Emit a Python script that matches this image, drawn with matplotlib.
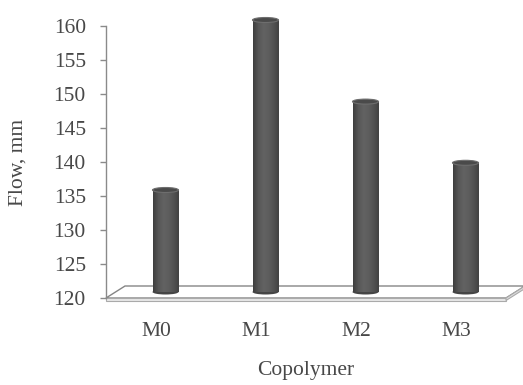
import matplotlib
matplotlib.use("Agg")
import matplotlib.pyplot as plt
import numpy as np
from matplotlib.patches import Polygon, Ellipse
from matplotlib.colors import LinearSegmentedColormap
from matplotlib import transforms

categories = ["M0", "M1", "M2", "M3"]
values = [135, 160, 148, 139]
yticks = [120, 125, 130, 135, 140, 145, 150, 155, 160]
ylabel = "Flow, mm"
xlabel = "Copolymer"

FONT = ["Liberation Serif", "DejaVu Serif"]
TXT = "#484848"
FS = 15.5

W, H = 523, 385
fig = plt.figure(figsize=(W / 100, H / 100), dpi=100)
ax_l, ax_r, ax_t, ax_b = 106, 506, 26, 298
ax = fig.add_axes([ax_l / W, (H - ax_b) / H, (ax_r - ax_l) / W, (ax_b - ax_t) / H])
ymin, ymax = yticks[0], yticks[-1]
n = len(categories)
ax.set_xlim(0, n)
ax.set_ylim(ymin, ymax)

# depth offsets (inches)
depth_dx, depth_dy = 0.19, 0.12
bar_trans = ax.transData + transforms.ScaledTranslation(depth_dx / 2, depth_dy / 2, fig.dpi_scale_trans)

# data units per inch
ax_w_in = (ax_r - ax_l) / 100
ax_h_in = (ax_b - ax_t) / 100
dxd = depth_dx * n / ax_w_in
dyd = depth_dy * (ymax - ymin) / ax_h_in
thick = 0.025 * (ymax - ymin) / ax_h_in

# floor
floor = Polygon([(0, ymin), (n, ymin), (n + dxd, ymin + dyd), (dxd, ymin + dyd)],
                closed=True, facecolor="white", edgecolor="#858585", lw=1.0, clip_on=False, zorder=1)
ax.add_patch(floor)
front = Polygon([(0, ymin), (n, ymin), (n, ymin - thick), (0, ymin - thick)],
                closed=True, facecolor="#e8e8e8", edgecolor="#aaaaaa", lw=0.8, clip_on=False, zorder=1)
ax.add_patch(front)
side = Polygon([(n, ymin), (n + dxd, ymin + dyd), (n + dxd, ymin + dyd - thick), (n, ymin - thick)],
               closed=True, facecolor="#dddddd", edgecolor="#aaaaaa", lw=0.8, clip_on=False, zorder=1)
ax.add_patch(side)

# bars as cylinders
cmap = LinearSegmentedColormap.from_list("cyl", ["#3e3e3e", "#565656", "#626262", "#5e5e5e", "#525252", "#424242"])
grad = np.linspace(0, 1, 64).reshape(1, -1)
bw = 0.26
eh = 0.05 * (ymax - ymin) / ax_h_in
for i, v in enumerate(values):
    cx = i + 0.5
    x0 = cx - bw / 2
    bottom = Ellipse((cx, ymin), bw, eh, facecolor="#454545", edgecolor="none",
                     transform=bar_trans, clip_on=False, zorder=3)
    ax.add_patch(bottom)
    im = ax.imshow(grad, extent=(x0, x0 + bw, ymin, v), aspect="auto", cmap=cmap,
                   interpolation="bilinear", zorder=4)
    im.set_transform(bar_trans)
    im.set_clip_on(False)
    top = Ellipse((cx, v), bw, eh, facecolor="#4a4a4a", edgecolor="#6e6e6e", lw=0.8,
                  transform=bar_trans, clip_on=False, zorder=5)
    ax.add_patch(top)

ax.set_xlim(0, n)
ax.set_ylim(ymin, ymax)

for s in ["top", "right", "bottom"]:
    ax.spines[s].set_visible(False)
ax.spines["left"].set_color("#8a8a8a")
ax.spines["left"].set_linewidth(1.0)
ax.patch.set_alpha(0)

ax.set_yticks(yticks)
ax.set_yticklabels([str(t) for t in yticks])
ax.tick_params(axis="y", direction="out", length=4.5, width=1.0, color="#8a8a8a",
               pad=10, labelcolor=TXT, labelsize=FS)
ax.set_xticks([i + 0.5 for i in range(n)])
ax.set_xticklabels(categories)
ax.tick_params(axis="x", length=0, pad=17, labelcolor=TXT, labelsize=FS)
for lab in ax.get_xticklabels() + ax.get_yticklabels():
    lab.set_family(FONT)

fig.text(18 / W, 1 - 162 / H, ylabel, rotation=90, ha="center", va="center",
         fontsize=FS, color=TXT, family=FONT)
fig.text(306 / W, 1 - 371 / H, xlabel, ha="center", va="center",
         fontsize=FS, color=TXT, family=FONT)

fig.savefig("out.png", dpi=100)
